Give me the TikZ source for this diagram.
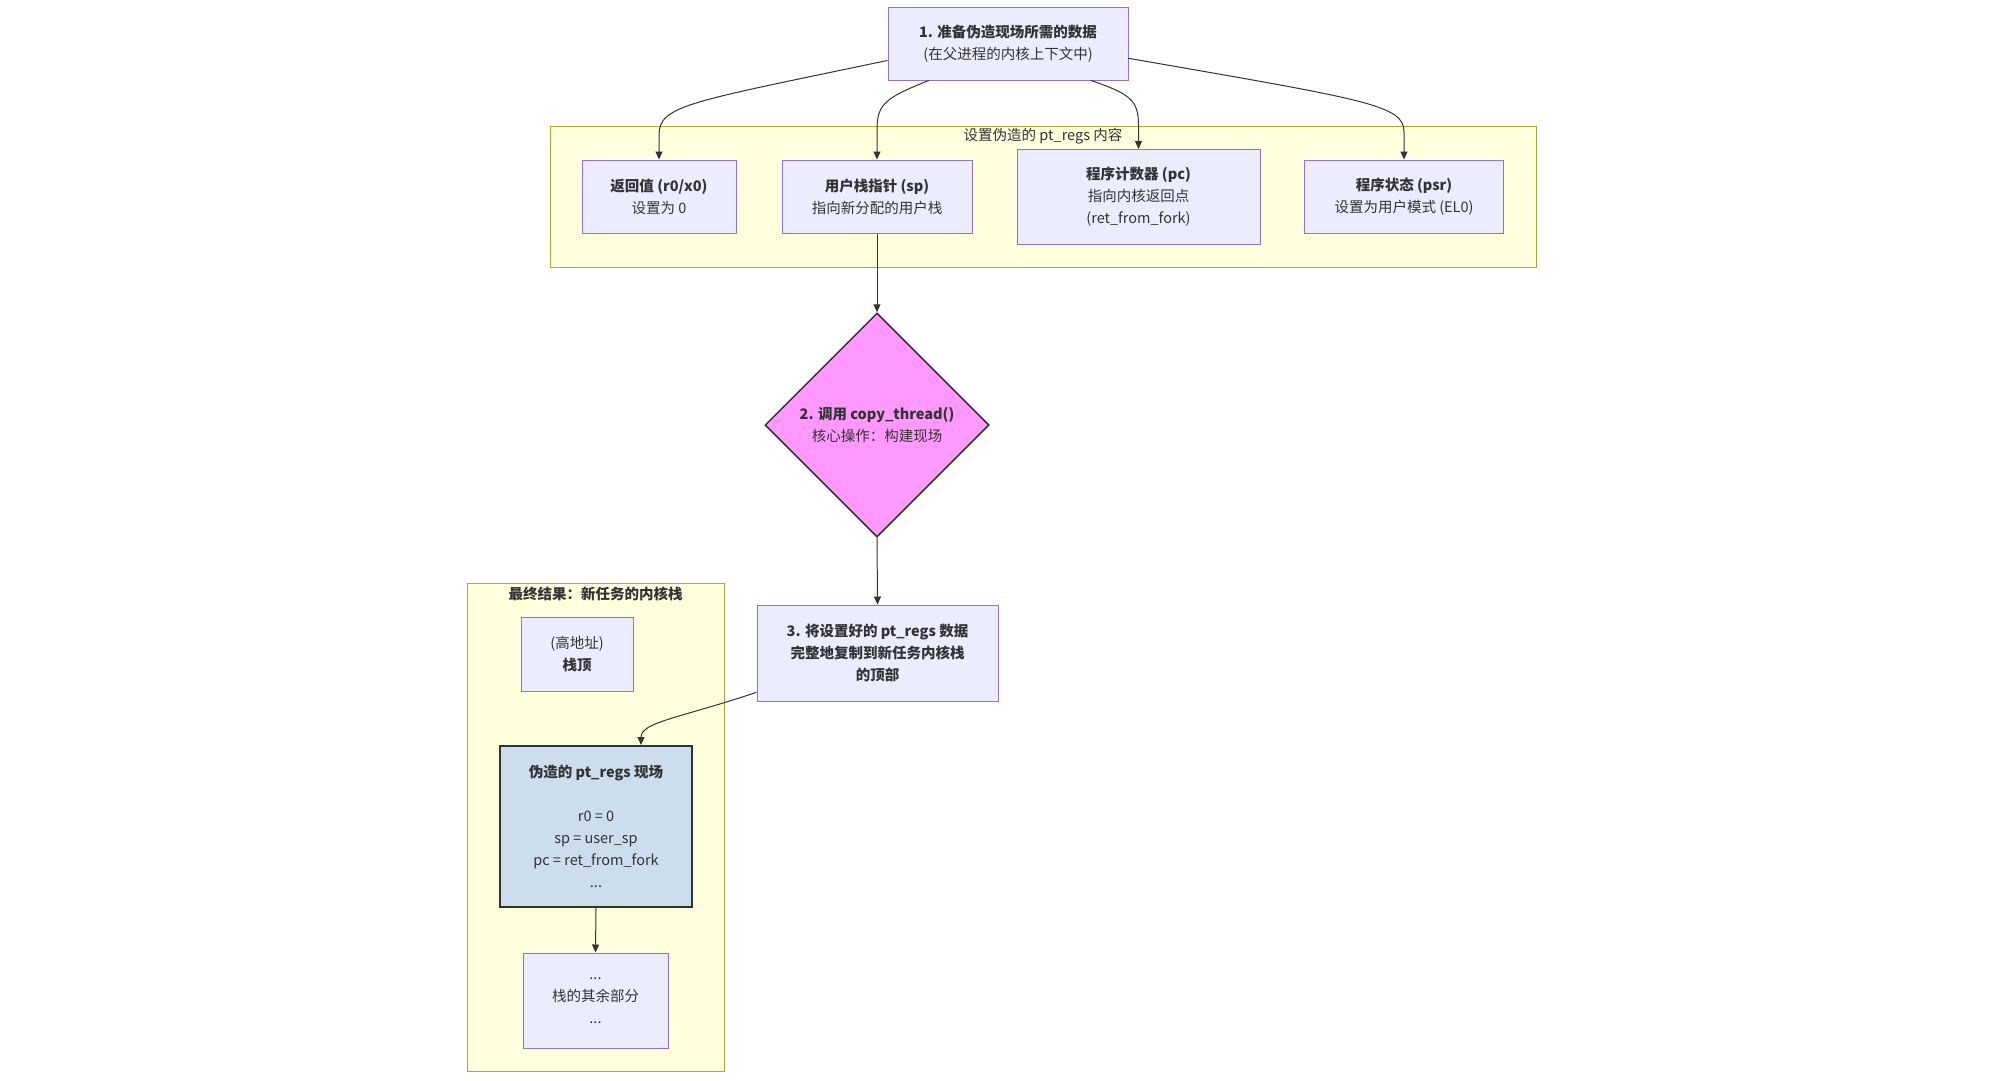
\documentclass[tikz,border=0pt]{standalone}
\usepackage{fontspec}
\setmainfont{Noto Sans CJK SC}
\usetikzlibrary{shapes.geometric,arrows.meta}

\begin{document}
\begin{tikzpicture}[x=1pt,y=-1pt,
  every node/.style={font=\fontsize{14.5}{22}\selectfont,text=ink},
  regbox/.style={draw=nodeline,fill=nodefill,line width=1pt,inner sep=0pt,align=center},
  group/.style={draw=groupline,fill=groupfill,line width=1pt},
  link/.style={draw=ink,line width=1pt,-{Triangle[length=8pt,width=7pt]}}]
\definecolor{ink}{HTML}{333333}
\definecolor{nodefill}{HTML}{ECECFF}
\definecolor{nodeline}{HTML}{9370DB}
\definecolor{groupfill}{HTML}{FFFFDE}
\definecolor{groupline}{HTML}{AAAA33}
\definecolor{pinkfill}{HTML}{FF99FF}
\definecolor{regsfill}{HTML}{CCDDEE}
\useasboundingbox (0,0) rectangle (2004,1080);
% clusters
\draw[group] (550,126) rectangle (1536,267);
\node (regslabel) at (1043,136) {设置伪造的 pt\_regs 内容};
\draw[group] (467,583) rectangle (724,1071);
\node (stacklabel) at (595.5,594) {\textbf{最终结果：新任务的内核栈}};
% nodes
\node [regbox,minimum width=240pt,minimum height=73pt] (prep) at (1008,43.5)
  {\textbf{1. 准备伪造现场所需的数据}\\(在父进程的内核上下文中)};
\node [regbox,minimum width=154pt,minimum height=73pt] (ret) at (659,196.5)
  {\textbf{返回值 (r0/x0)}\\设置为 0};
\node [regbox,minimum width=190pt,minimum height=73pt] (sp) at (877,196.5)
  {\textbf{用户栈指针 (sp)}\\指向新分配的用户栈};
\node [regbox,minimum width=243pt,minimum height=95pt] (pc) at (1138.5,197)
  {\textbf{程序计数器 (pc)}\\指向内核返回点\\(ret\_from\_fork)};
\node [regbox,minimum width=199pt,minimum height=73pt] (psr) at (1404,196.5)
  {\textbf{程序状态 (psr)}\\设置为用户模式 (EL0)};
\node [diamond,draw=ink,fill=pinkfill,line width=1.5pt,minimum width=224pt,minimum height=224pt,inner sep=0pt,align=center] (copy) at (877,425)
  {\textbf{2. 调用 copy\_thread()}\\核心操作：构建现场};
\node [regbox,minimum width=241pt,minimum height=96pt] (place) at (877.5,653)
  {\textbf{3. 将设置好的 pt\_regs 数据}\\\textbf{完整地复制到新任务内核栈}\\\textbf{的顶部}};
\node [regbox,minimum width=112pt,minimum height=74pt] (stacktop) at (577,654)
  {(高地址)\\\textbf{栈顶}};
\node [regbox,draw=ink,fill=regsfill,line width=2pt,minimum width=192pt,minimum height=161pt] (fake) at (596,826.5)
  {\textbf{伪造的 pt\_regs 现场}\\[22pt]r0 = 0\\sp = user\_sp\\pc = ret\_from\_fork\\...};
\node [regbox,minimum width=145pt,minimum height=95pt] (rest) at (595.5,1000.5)
  {...\\栈的其余部分\\...};
% connectors
\draw[link] (prep.188) .. controls (690,102) and (659,105) .. (659,135) -- (ret.north);
\draw[link] (prep.205) .. controls (885,98) and (877,104) .. (877,130) -- (sp.north);
\draw[link] (prep.336) .. controls (1130,94) and (1138.5,100) .. (1138.5,125) -- (pc.north);
\draw[link] (prep.353) .. controls (1368,100) and (1404,105) .. (1404,132) -- (psr.north);
\draw[link] (sp.south) -- (copy.north);
\draw[link] (copy.south) -- (place.north);
\draw[link] (place.198) .. controls (680,718) and (641,722) .. ([xshift=45pt]fake.north);
\draw[link] (fake.south) -- (rest.north);
\end{tikzpicture}
\end{document}
